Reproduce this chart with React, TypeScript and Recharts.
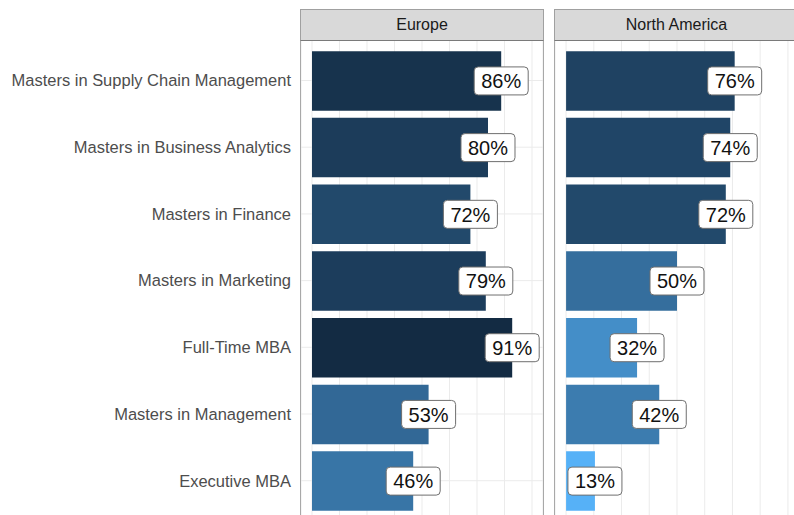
import React from "react";
import { BarChart, Bar, XAxis, YAxis, CartesianGrid, Cell, LabelList } from "recharts";

const programs = [
  "Masters in Supply Chain Management",
  "Masters in Business Analytics",
  "Masters in Finance",
  "Masters in Marketing",
  "Full-Time MBA",
  "Masters in Management",
  "Executive MBA",
];
const europeRates = [86, 80, 72, 79, 91, 53, 46];
const northAmericaRates = [76, 74, 72, 50, 32, 42, 13];
const regions = ["Europe", "North America"];
const gridTicks = [0, 12.5, 25, 37.5, 50, 62.5, 75, 87.5, 100];

const FONT = '"Liberation Sans", Arial, Helvetica, sans-serif';
const PANEL_TOP = 40.5;
const STEP = 66.7;
const PLOT_H = STEP * (programs.length + 0.2);
const CHART_H = PANEL_TOP + PLOT_H + 30;

// ggplot-like continuous fill (reversed: high value = dark), interpolated in Lab
const LOW_COLOR = "#56B1F7";
const HIGH_COLOR = "#132B43";

function toLab(hex: string) {
  const c = [1, 3, 5].map((i) => parseInt(hex.slice(i, i + 2), 16) / 255);
  const [r, g, b] = c.map((v) => (v <= 0.04045 ? v / 12.92 : Math.pow((v + 0.055) / 1.055, 2.4)));
  const x = (0.4124 * r + 0.3576 * g + 0.1805 * b) / 0.95047;
  const y = 0.2126 * r + 0.7152 * g + 0.0722 * b;
  const z = (0.0193 * r + 0.1192 * g + 0.9505 * b) / 1.08883;
  const f = (t: number) => (t > 0.008856 ? Math.cbrt(t) : 7.787 * t + 16 / 116);
  return [116 * f(y) - 16, 500 * (f(x) - f(y)), 200 * (f(y) - f(z))];
}

function fromLab([L, A, B]: number[]) {
  const fy = (L + 16) / 116;
  const fx = fy + A / 500;
  const fz = fy - B / 200;
  const inv = (t: number) => (t * t * t > 0.008856 ? t * t * t : (t - 16 / 116) / 7.787);
  const x = inv(fx) * 0.95047;
  const y = inv(fy);
  const z = inv(fz) * 1.08883;
  const lin = [
    3.2406 * x - 1.5372 * y - 0.4986 * z,
    -0.9689 * x + 1.8758 * y + 0.0415 * z,
    0.0557 * x - 0.204 * y + 1.057 * z,
  ];
  return (
    "#" +
    lin
      .map((v) => {
        const s = v <= 0.0031308 ? 12.92 * v : 1.055 * Math.pow(v, 1 / 2.4) - 0.055;
        const n = Math.round(Math.min(1, Math.max(0, s)) * 255);
        return n.toString(16).padStart(2, "0");
      })
      .join("")
  );
}

const allRates = [...europeRates, ...northAmericaRates];
const minRate = Math.min(...allRates);
const maxRate = Math.max(...allRates);
const lowLab = toLab(LOW_COLOR);
const highLab = toLab(HIGH_COLOR);

function fillFor(v: number) {
  const t = (v - minRate) / (maxRate - minRate);
  return fromLab(lowLab.map((l, i) => l + (highLab[i] - l) * t));
}

function PctLabel(props: any) {
  const { x, y, width, height, value } = props;
  const cx = x + width;
  const cy = y + height / 2;
  return (
    <g>
      <rect x={cx - 27} y={cy - 14} width={54} height={28} rx={4} fill="#fff" stroke="#6e6e6e" strokeWidth={1} />
      <text x={cx} y={cy} dy="0.36em" textAnchor="middle" fontSize={20} fill="#111" fontFamily={FONT}>
        {value}%
      </text>
    </g>
  );
}

function Panel({ title, rates, left, axisWidth, width }: { title: string; rates: number[]; left: number; axisWidth: number; width: number }) {
  const data = programs.map((p, i) => ({ program: p, rate: rates[i] }));
  const plotLeft = left + axisWidth;
  const plotW = width - axisWidth;
  return (
    <>
      <div style={{ position: "absolute", left, top: 0 }}>
        <BarChart
          width={width}
          height={CHART_H}
          data={data}
          layout="vertical"
          margin={{ top: PANEL_TOP, right: 0, bottom: 0, left: 0 }}
        >
          <CartesianGrid stroke="#ebebeb" strokeWidth={1} />
          {/* x axis sits below the visible crop; it only feeds the grid */}
          <XAxis
            type="number"
            dataKey="rate"
            domain={[-5, 105]}
            ticks={gridTicks}
            interval={0}
            allowDataOverflow
            height={30}
            tickFormatter={() => ""}
            axisLine={false}
            tickLine={false}
          />
          <YAxis
            type="category"
            dataKey="program"
            width={axisWidth}
            padding={{ top: STEP * 0.1, bottom: STEP * 0.1 }}
            axisLine={false}
            tickLine={false}
            tickSize={0}
            tickMargin={10}
            tick={axisWidth > 0 ? { fill: "#4d4d4d", fontSize: 16.5, fontFamily: FONT } : false}
            interval={0}
          />
          <Bar dataKey="rate" barSize={59.5} isAnimationActive={false}>
            {data.map((d, i) => (
              <Cell key={i} fill={fillFor(d.rate)} />
            ))}
            <LabelList dataKey="rate" content={PctLabel} />
          </Bar>
        </BarChart>
      </div>
      <div
        style={{
          position: "absolute",
          left: plotLeft - 1,
          top: PANEL_TOP - 0.5,
          width: plotW + 2,
          height: PLOT_H + 2,
          border: "1.2px solid #a8a8a8",
          boxSizing: "border-box",
          pointerEvents: "none",
        }}
      />
      <div
        style={{
          position: "absolute",
          left: plotLeft - 1,
          top: 9,
          width: plotW + 2,
          height: 32,
          background: "#d9d9d9",
          border: "1.2px solid #a0a0a0",
          borderBottomColor: "#7a7a7a",
          boxSizing: "border-box",
          display: "flex",
          alignItems: "center",
          justifyContent: "center",
          fontFamily: FONT,
          fontSize: 16,
          color: "#1a1a1a",
        }}
      >
        {title}
      </div>
    </>
  );
}

export default function App() {
  return (
    <div
      style={{
        position: "absolute",
        left: 0,
        top: 0,
        width: 794,
        height: 515,
        overflow: "hidden",
        background: "#fff",
      }}
    >
      <Panel title={regions[0]} rates={europeRates} left={0} axisWidth={301} width={543} />
      <Panel title={regions[1]} rates={northAmericaRates} left={554.5} axisWidth={0} width={244} />
    </div>
  );
}
